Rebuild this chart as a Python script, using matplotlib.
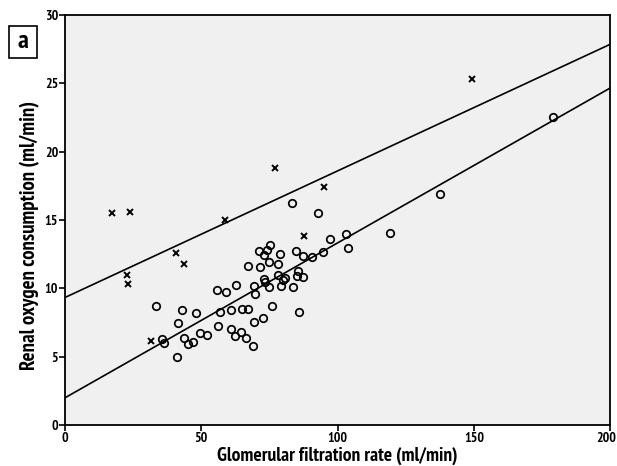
import matplotlib
matplotlib.use("Agg")
import matplotlib.pyplot as plt
from matplotlib.patches import Rectangle
from matplotlib.transforms import ScaledTranslation
import numpy as np

# Data
circle_gfr = [33.3, 42.9, 47.9, 41.3, 55.7, 58.9, 62.8, 67.3, 71.1, 71.6,
              69.4, 69.6, 57.0, 60.9, 65.1, 67.1, 56.1, 60.8, 64.7, 62.5,
              66.4, 69.5, 69.0, 35.5, 36.5, 43.7, 45.0, 46.9, 49.6, 52.1,
              41.1, 83.2, 92.9, 97.1, 103.0, 103.9, 119.4, 75.2, 74.2, 73.1,
              78.9, 84.6, 87.4, 90.7, 94.6, 74.9, 78.1, 85.5, 85.0, 87.2,
              78.3, 80.0, 80.8, 72.9, 73.3, 74.7, 79.3, 83.5, 76.0, 85.8,
              72.7, 137.7, 179.1]
circle_qo2 = [8.69, 8.42, 8.23, 7.45, 9.88, 9.71, 10.26, 11.61, 12.74, 11.59,
              10.18, 9.60, 8.28, 8.45, 8.50, 8.49, 7.23, 6.99, 6.82, 6.53,
              6.35, 7.57, 5.80, 6.31, 5.97, 6.40, 5.90, 6.09, 6.73, 6.55,
              4.95, 16.23, 15.50, 13.58, 13.96, 12.96, 14.04, 13.19, 12.81, 12.42,
              12.50, 12.74, 12.39, 12.26, 12.66, 11.92, 11.75, 11.30, 10.90, 10.80,
              10.96, 10.64, 10.77, 10.67, 10.44, 10.09, 10.20, 10.07, 8.69, 8.30,
              7.82, 16.91, 22.55]

cross_gfr = [17.1, 24.0, 22.8, 23.2, 40.7, 43.8, 58.7, 77.1, 95.2, 87.7, 31.4, 149.4]
cross_qo2 = [15.5, 15.6, 11.0, 10.3, 12.6, 11.8, 15.0, 18.8, 17.4, 13.8, 6.15, 25.3]

# Fit lines (intercept, slope)
upper_fit = [9.33, 0.0926]
lower_fit = [1.99, 0.1133]

x_ticks = [0, 50, 100, 150, 200]
y_ticks = [0, 5, 10, 15, 20, 25, 30]

plt.rcParams['font.family'] = ['PT Sans Narrow', 'DejaVu Sans']

fig = plt.figure(figsize=(6.17, 4.66), dpi=100)
ax = fig.add_axes([65/617, 41/466, 545/617, 410/466])
ax.set_facecolor('#f0f0f0')

xl = np.array([0, 200])
ax.plot(xl, upper_fit[0] + upper_fit[1]*xl, color='black', lw=1.2, zorder=2)
ax.plot(xl, lower_fit[0] + lower_fit[1]*xl, color='black', lw=1.2, zorder=2)

ax.plot(circle_gfr, circle_qo2, linestyle='none', marker='o', ms=5.4,
        mfc='none', mec='black', mew=1.25, zorder=3)
ax.plot(cross_gfr, cross_qo2, linestyle='none', marker='x', ms=3.8,
        mec='black', mew=1.4, zorder=3)

ax.set_xlim(0, 200)
ax.set_ylim(0, 30)
ax.set_xticks(x_ticks)
ax.set_yticks(y_ticks)
ax.tick_params(direction='out', length=4, width=1.2, labelsize=10, pad=1)
for lab in ax.get_xticklabels() + ax.get_yticklabels():
    lab.set_fontweight('bold')
for s in ax.spines.values():
    s.set_linewidth(1.3)
    s.set_color('black')

# keep the last x tick label inside the figure
last = ax.get_xticklabels()[-1]
last.set_ha('right')
last.set_transform(last.get_transform() + ScaledTranslation(6/100, 0, fig.dpi_scale_trans))

ax.set_xlabel('Glomerular filtration rate (ml/min)', fontsize=14,
              fontweight='bold', labelpad=1.5)
ax.set_ylabel('Renal oxygen consumption (ml/min)', fontsize=15,
              fontweight='bold')
ax.yaxis.set_label_coords(-0.046, 0.463)

# panel label "a" in a box
fig.add_artist(Rectangle((8.5/617, 1 - 57.5/466), 29/617, 31/466,
                         transform=fig.transFigure, fc='white', ec='black', lw=1.2))
fig.text(23/617, 1 - 42/466, 'a', fontsize=19, fontweight='bold',
         ha='center', va='center')

fig.savefig('out.png', dpi=100, facecolor='white')
